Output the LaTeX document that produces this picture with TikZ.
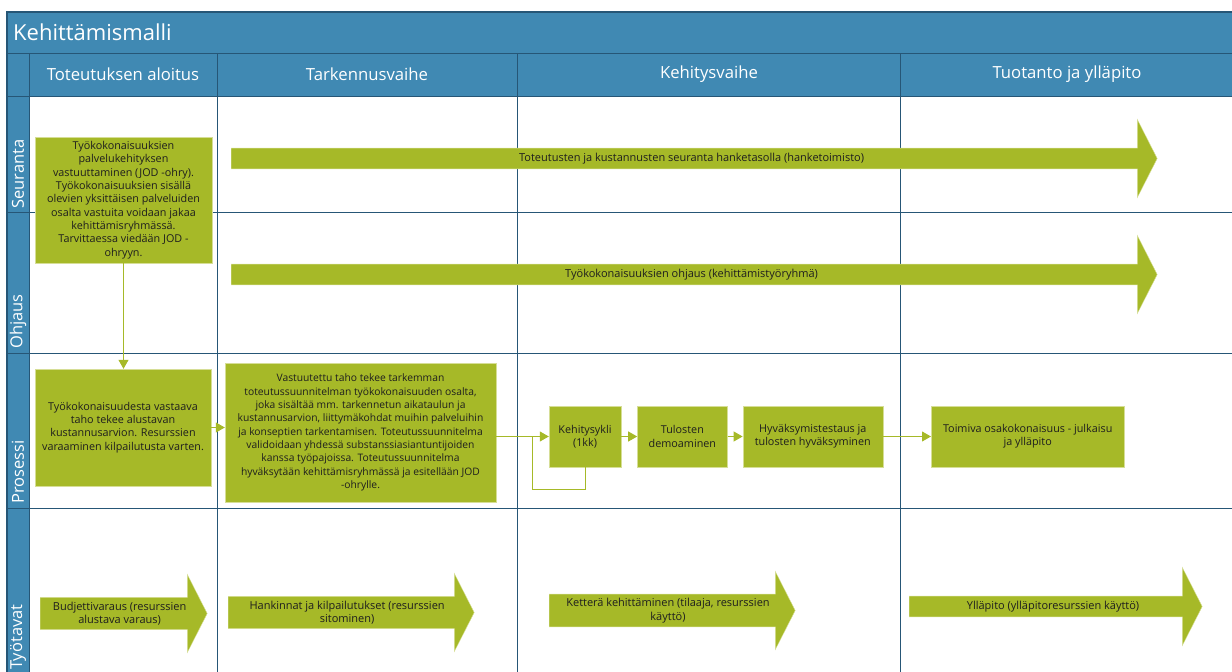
\documentclass[tikz,border=0pt]{standalone}
\usepackage{fontspec}
\setmainfont{Open Sans}
\usetikzlibrary{arrows.meta, positioning, shapes.arrows}
\definecolor{laneblue}{RGB}{64,137,179}
\definecolor{gridblue}{RGB}{38,86,118}
\definecolor{leafgreen}{RGB}{166,185,40}
\definecolor{leafedge}{RGB}{214,222,150}
\definecolor{inkgray}{RGB}{30,30,30}

\begin{document}
\begin{tikzpicture}[x=1pt, y=-1pt,
    task/.style={draw=leafedge, fill=leafgreen, align=center, text=inkgray, inner sep=1pt, font=\fontsize{10.8}{13.3}\selectfont},
    flow/.style={single arrow, single arrow head extend=18.5pt, single arrow tip angle=126, single arrow head indent=0pt, minimum width=78pt, draw=leafedge, fill=leafgreen, align=center, text=inkgray, anchor=tail, inner sep=1pt, font=\fontsize{11}{13.5}\selectfont},
    lane/.style={rotate=90, anchor=west, inner sep=0pt, text=white, font=\fontsize{16.5}{19}\selectfont},
    colhead/.style={text=white, font=\fontsize{16.7}{19}\selectfont},
    link/.style={draw=leafgreen, line width=1pt, -{Triangle[length=9pt, width=10pt]}}]

    \useasboundingbox (0,0) rectangle (1232,672);
    \clip (0,0) rectangle (1232,672);

    % Swimlane frame
    \fill[laneblue] (7,12) rectangle (1240,96);
    \fill[laneblue] (7,96) rectangle (29,690);
    \draw[gridblue, line width=1.5pt] (7,690) -- (7,12) -- (1240,12);
    \draw[gridblue] (7,53) -- (1240,53);
    \draw[gridblue] (7,96) -- (1240,96);
    \draw[gridblue] (7,212) -- (1240,212);
    \draw[gridblue] (7,353) -- (1240,353);
    \draw[gridblue] (7,508) -- (1240,508);
    \draw[gridblue] (29,53) -- (29,690);
    \draw[gridblue] (217,53) -- (217,690);
    \draw[gridblue] (517,53) -- (517,690);
    \draw[gridblue] (900,53) -- (900,690);

    % Title, phases and lanes
    \node[anchor=base west, inner sep=0pt, text=white, font=\fontsize{22}{26}\selectfont] (title) at (13,40) {Kehittämismalli};
    \node[colhead] (h1) at (123,74.5) {Toteutuksen aloitus};
    \node[colhead] (h2) at (367,74.5) {Tarkennusvaihe};
    \node[colhead] (h3) at (709,74.5) {Kehitysvaihe};
    \node[colhead] (h4) at (1067,74.5) {Tuotanto ja ylläpito};
    \node[lane] (l1) at (18,209) {Seuranta};
    \node[lane] (l2) at (18,349) {Ohjaus};
    \node[lane] (l3) at (18,504) {Prosessi};
    \node[lane] (l4) at (18,670) {Työtavat};

    % Process steps
    \node[task, minimum width=177pt, minimum height=126pt] (vastuu) at (123.5,200) {Työkokonaisuuksien\\palvelukehityksen\\vastuuttaminen (JOD -ohry).\\Työkokonaisuuksien sisällä\\olevien yksittäisen palveluiden\\osalta vastuita voidaan jakaa\\kehittämisryhmässä.\\Tarvittaessa viedään JOD -\\ohryyn.};
    \node[task, minimum width=176pt, minimum height=117pt] (arvio) at (123,427.5) {Työkokonaisuudesta vastaava\\taho tekee alustavan\\kustannusarvion. Resurssien\\varaaminen kilpailutusta varten.};
    \node[task, minimum width=271pt, minimum height=139pt, font=\fontsize{10.3}{13.3}\selectfont] (suunnitelma) at (360.5,432.5) {Vastuutettu taho tekee tarkemman\\toteutussuunnitelman työkokonaisuuden osalta,\\joka sisältää mm. tarkennetun aikataulun ja\\kustannusarvion, liittymäkohdat muihin palveluihin\\ja konseptien tarkentamisen. Toteutussuunnitelma\\validoidaan yhdessä substanssiasiantuntijoiden\\kanssa työpajoissa. Toteutussuunnitelma\\hyväksytään kehittämisryhmässä ja esitellään JOD\\-ohrylle.};
    \node[task, minimum width=72pt, minimum height=61pt] (sykli) at (585,436.5) {Kehitysykli\\(1kk)};
    \node[task, minimum width=90pt, minimum height=61pt, right=16pt of sykli] (demo) {Tulosten\\demoaminen};
    \node[task, minimum width=140pt, minimum height=61pt, right=15pt of demo] (testaus) {Hyväksymistestaus ja\\tulosten hyväksyminen};
    \node[task, minimum width=193pt, minimum height=61pt, right=48pt of testaus] (julkaisu) {Toimiva osakokonaisuus - julkaisu\\ja ylläpito};

    % Long running arrows
    \node[flow, minimum height=926pt] (seuranta) at (231,158.5) {Toteutusten ja kustannusten seuranta hanketasolla (hanketoimisto)};
    \node[flow, minimum height=926pt] (ohjaus) at (231,274.5) {Työkokonaisuuksien ohjaus (kehittämistyöryhmä)};
    \node[flow, minimum height=167pt] (budjetti) at (40,613.5) {Budjettivaraus (resurssien\\alustava varaus)};
    \node[flow, minimum height=246pt] (hankinta) at (228,612.5) {Hankinnat ja kilpailutukset (resurssien\\sitominen)};
    \node[flow, minimum height=246pt] (ketteraa) at (549,610.5) {Ketterä kehittäminen (tilaaja, resurssien\\käyttö)};
    \node[flow, minimum height=293pt] (yllapito) at (909,606.5) {Ylläpito (ylläpitoresurssien käyttö)};

    % Connections
    \draw[link] (vastuu.south) -- (vastuu.south |- arvio.north);
    \draw[link] (arvio.east) -- (arvio.east -| suunnitelma.west);
    \draw[link] (suunnitelma.east |- sykli.west) -- (sykli.west);
    \draw[draw=leafgreen, line width=1pt] (sykli.south) -- ++(0,22) -| ([xshift=-16pt]sykli.west);
    \draw[link] (sykli) -- (demo);
    \draw[link] (demo) -- (testaus);
    \draw[link] (testaus) -- (julkaisu);
\end{tikzpicture}
\end{document}
